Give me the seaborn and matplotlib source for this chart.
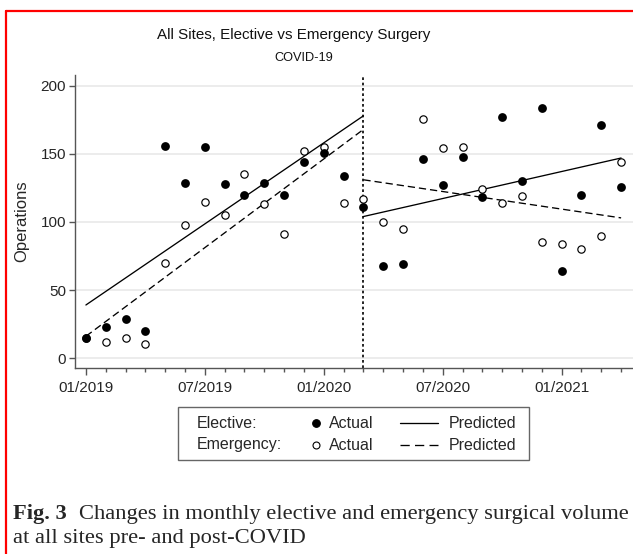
import numpy as np
import pandas as pd
import matplotlib
matplotlib.use("Agg")
import matplotlib.pyplot as plt
import seaborn as sns
from matplotlib.lines import Line2D
from matplotlib.patches import Rectangle

# monthly operation counts, 01/2019 .. 04/2021
months = ["01/2019", "02/2019", "03/2019", "04/2019", "05/2019", "06/2019",
          "07/2019", "08/2019", "09/2019", "10/2019", "11/2019", "12/2019",
          "01/2020", "02/2020", "03/2020", "04/2020", "05/2020", "06/2020",
          "07/2020", "08/2020", "09/2020", "10/2020", "11/2020", "12/2020",
          "01/2021", "02/2021", "03/2021", "04/2021"]
elective = [15, 23, 29, 20, 156, 129, 155, 128, 120, 129, 120, 144, 151, 134,
            111, 68, 69, 146, 127, 148, 118, 177, 130, 184, 64, 120, 171, 126]
emergency = [15, 12, 15, 10, 70, 98, 115, 105, 135, 113, 91, 152, 155, 114,
             117, 100, 95, 176, 154, 155, 124, 114, 119, 85, 84, 80, 90, 144]

# fitted (predicted) segments, start / end month
pre_months = ["01/2019", "03/2020"]
post_months = ["03/2020", "04/2021"]
elective_pred_pre = [39, 178]
elective_pred_post = [104, 147]
emergency_pred_pre = [16, 168]
emergency_pred_post = [131, 103]

covid_month = "03/2020"
tick_months = ["01/2019", "07/2019", "01/2020", "07/2020", "01/2021"]
y_ticks = [0, 50, 100, 150, 200]

sns.set_theme(style="white")
plt.rcParams['font.family'] = ['Liberation Sans', 'DejaVu Sans']

idx = {m: i for i, m in enumerate(months)}
df = pd.DataFrame({"month": np.arange(len(months)),
                   "elective": elective, "emergency": emergency})

W, H = 633, 554
fig = plt.figure(figsize=(W / 100, H / 100), dpi=100)
ax = fig.add_axes([75 / W, (H - 368) / H, 1 - 75 / W, (368 - 75) / H])

ax.set_axisbelow(True)
ax.yaxis.grid(True, color='#ececec', lw=1.4)
ax.xaxis.grid(False)

ax.axvline(idx[covid_month], color='black', lw=1.2, linestyle=(0, (1.6, 1.6)), zorder=1)

for xs, ys, ls in [(pre_months, emergency_pred_pre, (0, (5.5, 3))),
                   (post_months, emergency_pred_post, (0, (5.5, 3))),
                   (pre_months, elective_pred_pre, '-'),
                   (post_months, elective_pred_post, '-')]:
    sns.lineplot(x=[idx[m] for m in xs], y=ys, color='black', lw=0.95,
                 linestyle=ls, ax=ax, zorder=2)

sns.scatterplot(data=df, x="month", y="emergency", marker='o', s=28,
                facecolor='white', edgecolor='black', linewidth=0.85, ax=ax, zorder=3)
sns.scatterplot(data=df, x="month", y="elective", marker='o', s=40,
                color='black', edgecolor='black', linewidth=0, ax=ax, zorder=4)

ax.set_xlim(-0.55, 27.6)
ax.set_ylim(-7.3, 208)
ax.set_xticks([idx[m] for m in tick_months])
ax.set_xticklabels(tick_months, fontsize=11)
ax.set_xticks(np.arange(len(months)), minor=True)
ax.set_yticks(y_ticks)
ax.set_yticklabels([str(v) for v in y_ticks], fontsize=11)
ax.tick_params(axis='x', which='major', direction='out', length=5, width=1,
               color='#555555', pad=4, bottom=True)
ax.tick_params(axis='x', which='minor', direction='out', length=3, width=1,
               color='#555555', bottom=True)
ax.tick_params(axis='y', which='major', direction='out', length=4.5, width=1,
               color='#555555', pad=2, left=True)
ax.set_xlabel("")
ax.set_ylabel("Operations", fontsize=12, labelpad=8)
for side in ['top', 'right']:
    ax.spines[side].set_visible(False)
for side in ['left', 'bottom']:
    ax.spines[side].set_color('#555555')
    ax.spines[side].set_linewidth(1)

# titles
fig.text(294 / W, 1 - 35 / H, "All Sites, Elective vs Emergency Surgery",
         ha='center', va='center', fontsize=10.9, color='#111111')
fig.text(304 / W, 1 - 58 / H, "COVID-19", ha='center', va='center',
         fontsize=9.2, color='#111111')

# legend box
fig.add_artist(Rectangle((178 / W, 1 - 460 / H), 351 / W, 53 / H,
                         transform=fig.transFigure, fill=False,
                         edgecolor='#666666', lw=1))
for row_y, name, mfc, ls in [(423, "Elective:", 'black', '-'),
                             (445, "Emergency:", 'white', (0, (7, 4)))]:
    fy = 1 - row_y / H
    fig.text(197 / W, fy, name, ha='left', va='center', fontsize=11.5)
    fig.add_artist(Line2D([316 / W], [fy], transform=fig.transFigure,
                          marker='o', markersize=5.5 if mfc == 'black' else 5,
                          markerfacecolor=mfc, markeredgecolor='black',
                          markeredgewidth=0.8, linestyle='none'))
    fig.text(329 / W, fy, "Actual", ha='left', va='center', fontsize=11.5)
    fig.add_artist(Line2D([400 / W, 438 / W], [fy, fy], transform=fig.transFigure,
                          color='black', lw=0.95, linestyle=ls))
    fig.text(449 / W, fy, "Predicted", ha='left', va='center', fontsize=11.5)

# caption
fig.text(13 / W, 1 - 514 / H, "Fig. 3", ha='left', va='center', fontsize=16.2,
         fontweight='bold', family='Liberation Serif')
fig.text(79 / W, 1 - 514 / H,
         "Changes in monthly elective and emergency surgical volume",
         ha='left', va='center', fontsize=16.2, family='Liberation Serif')
fig.text(13 / W, 1 - 539 / H, "at all sites pre- and post-COVID",
         ha='left', va='center', fontsize=16.2, family='Liberation Serif')

# red frame
fig.add_artist(Line2D([5.5 / W, 1], [1 - 11 / H, 1 - 11 / H],
                      transform=fig.transFigure, color='red', lw=1.6))
fig.add_artist(Line2D([5.5 / W, 5.5 / W], [0, 1 - 11 / H],
                      transform=fig.transFigure, color='red', lw=1.6))

fig.savefig("out.png", dpi=100)
